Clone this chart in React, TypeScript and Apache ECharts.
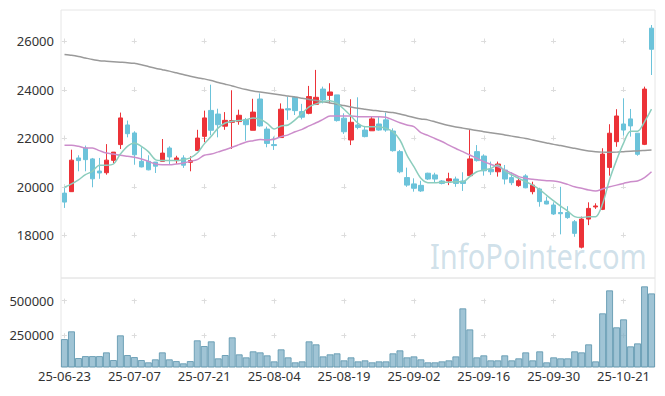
import React, { useEffect, useRef } from "react";
import * as echarts from "echarts";

const dates = [
  "25-06-23", "25-06-24", "25-06-25", "25-06-26", "25-06-27", "25-06-30",
  "25-07-01", "25-07-02", "25-07-03", "25-07-04",
  "25-07-07", "25-07-08", "25-07-09", "25-07-10", "25-07-11",
  "25-07-14", "25-07-15", "25-07-16", "25-07-17", "25-07-18",
  "25-07-21", "25-07-22", "25-07-23", "25-07-24", "25-07-25",
  "25-07-28", "25-07-29", "25-07-30", "25-07-31", "25-08-01",
  "25-08-04", "25-08-05", "25-08-06", "25-08-07", "25-08-08",
  "25-08-11", "25-08-12", "25-08-13", "25-08-14",
  "25-08-18", "25-08-19", "25-08-20", "25-08-21", "25-08-22",
  "25-08-25", "25-08-26", "25-08-27", "25-08-28", "25-08-29",
  "25-09-01", "25-09-02", "25-09-03", "25-09-04", "25-09-05",
  "25-09-08", "25-09-09", "25-09-10", "25-09-11", "25-09-12",
  "25-09-15", "25-09-16", "25-09-17", "25-09-18", "25-09-19",
  "25-09-22", "25-09-23", "25-09-24", "25-09-25", "25-09-26",
  "25-09-29", "25-09-30", "25-10-01", "25-10-02", "25-10-10",
  "25-10-13", "25-10-14", "25-10-15", "25-10-16", "25-10-17",
  "25-10-20", "25-10-21", "25-10-22", "25-10-23", "25-10-24", "25-10-27",
];

const opens = [
  19740, 19800, 21190, 21600, 21150, 20650, 20580, 21090, 21740, 22550,
  22220, 21050, 21050, 21020, 21050, 21600, 21080, 21190, 21010, 21500,
  22080, 23150, 23000, 22500, 22660, 22690, 22770, 22330, 23620, 22380,
  21740, 22030, 23220, 23690, 23100, 23030, 23400, 24030, 23770, 23790,
  22830, 21930, 22550, 22340, 22310, 22590, 22760, 22300, 21450, 20380,
  20120, 20060, 20560, 20490, 20240, 20240, 20320, 20240, 20460, 21450,
  21270, 20720, 20620, 20690, 20380, 20050, 20450, 19800, 19910, 19410,
  19250, 18940, 18940, 18560, 17510, 18670, 19170, 19070, 20800, 21860,
  22590, 22800, 22210, 21750, 26540,
];

const closes = [
  19370, 21100, 21080, 21120, 20330, 20570, 21100, 21430, 22840, 22190,
  21320, 20820, 20700, 20850, 21390, 21230, 21190, 20890, 21080, 22010,
  22840, 22330, 22560, 22740, 22730, 22950, 22560, 23080, 22510, 21790,
  21700, 23200, 23170, 23140, 22870, 23720, 23690, 23580, 23910, 22730,
  22270, 22660, 22450, 22070, 22800, 22340, 22340, 21490, 20620, 20070,
  19940, 19830, 20320, 20320, 20140, 20330, 20140, 20140, 21150, 21080,
  20660, 20620, 20940, 20320, 20170, 20250, 19960, 20070, 19390, 19290,
  18880, 18890, 18730, 18080, 18670, 19110, 19210, 21350, 22210, 22920,
  22340, 22510, 21340, 24030, 25670,
];

const lows = [
  19130, 19790, 20640, 20640, 19980, 20330, 20500, 20980, 21560, 22040,
  20910, 20800, 20680, 20570, 21050, 20910, 20950, 20780, 20640, 21500,
  21840, 22120, 22040, 22350, 21560, 22560, 21900, 22330, 22480, 21630,
  21520, 22030, 22760, 22960, 22780, 22990, 23370, 23440, 23440, 22690,
  22180, 21720, 22370, 22040, 22310, 22310, 22270, 21450, 20560, 20000,
  19800, 19790, 20280, 20190, 20100, 20070, 20000, 19830, 20460, 21040,
  20460, 20490, 20420, 20100, 20070, 20000, 19940, 19690, 19180, 19280,
  18840, 18040, 18680, 17940, 17460, 18420, 19090, 19040, 20460, 21650,
  22110, 22070, 21280, 21720, 24610,
];

const highs = [
  19950, 21530, 21300, 21700, 21190, 21190, 21760, 21430, 23060, 22730,
  22290, 21630, 21300, 21020, 21970, 21670, 21280, 21300, 21260, 22350,
  23140, 24210, 23220, 23080, 23980, 23180, 22840, 23630, 23850, 22480,
  22070, 23440, 23720, 23720, 23420, 24160, 24820, 24130, 24270, 23790,
  23030, 23610, 23690, 22510, 22890, 22920, 23060, 22410, 21520, 20790,
  20350, 20250, 20580, 20580, 20280, 20580, 20420, 20600, 22340, 21720,
  21340, 21040, 21040, 20900, 20600, 20380, 20520, 20210, 19960, 19590,
  19360, 20000, 19200, 18630, 18770, 19360, 19320, 21590, 22580, 23200,
  23650, 23210, 22210, 24130, 26670,
];

const volumes = [
  223000, 279000, 86000, 100000, 100000, 100000, 127000, 71500, 250000, 107600,
  93000, 71500, 55000, 76600, 127000, 76600, 64000, 47700, 64000, 214000,
  172700, 206600, 83800, 107600, 235500, 112700, 91000, 134400, 127000, 105500,
  62000, 148800, 91000, 55000, 62000, 206600, 185000, 98000, 112700, 120000,
  69400, 91000, 62000, 69400, 55000, 62000, 62000, 120000, 141600, 91000,
  98000, 76600, 55000, 55000, 62000, 69400, 98000, 445000, 293000, 91000,
  105500, 69400, 69400, 105500, 69400, 83800, 127000, 69400, 134400, 55000,
  91000, 83800, 83800, 134400, 127000, 185000, 62000, 409000, 575000, 308000,
  365600, 170500, 192000, 604000, 553000,
];

const ma5 = [
  19980, 20120, 20290, 20500, 20640, 20890, 20890, 20940, 21350, 21670,
  21810, 21670, 21450, 21120, 21080, 21080, 21080, 21120, 21190, 21390,
  21770, 22080, 22430, 22630, 22700, 22730, 22770, 22840, 22780, 22620,
  22380, 22510, 22550, 22760, 23030, 23300, 23420, 23510, 23550, 23440,
  23200, 22920, 22620, 22480, 22480, 22480, 22410, 22270, 21930, 21310,
  20830, 20350, 20170, 20170, 20190, 20190, 20210, 20210, 20420, 20620,
  20690, 20760, 20900, 20650, 20490, 20350, 20210, 20070, 19880, 19650,
  19420, 19200, 19000, 18770, 18730, 18770, 18770, 19300, 20300, 21100,
  21800, 22290, 22290, 22680, 23200,
];

const ma20 = [
  21710, 21710, 21670, 21600, 21600, 21490, 21390, 21350, 21300, 21260,
  21220, 21150, 21050, 20940, 20910, 20910, 20940, 20980, 21050, 21120,
  21300, 21350, 21440, 21530, 21630, 21740, 21850, 21900, 21950, 21930,
  21960, 22070, 22140, 22270, 22370, 22510, 22640, 22780, 22920, 22920,
  22920, 22920, 22890, 22890, 22890, 22890, 22870, 22760, 22640, 22550,
  22480, 22230, 22120, 21990, 21870, 21720, 21580, 21450, 21310, 21180,
  21040, 20930, 20830, 20690, 20560, 20420, 20350, 20310, 20280, 20250,
  20240, 20190, 20100, 20000, 19940, 19870, 19830, 19910, 20000, 20070,
  20140, 20210, 20240, 20380, 20620,
];

const ma60 = [
  25460, 25420, 25370, 25310, 25250, 25200, 25180, 25160, 25140, 25120,
  25090, 25030, 24960, 24890, 24830, 24770, 24700, 24630, 24560, 24500,
  24450, 24380, 24300, 24230, 24160, 24080, 24010, 23950, 23910, 23870,
  23830, 23790, 23740, 23700, 23650, 23600, 23560, 23510, 23460, 23400,
  23350, 23290, 23240, 23200, 23160, 23130, 23090, 23060, 23000, 22930,
  22860, 22800, 22760, 22680, 22600, 22530, 22470, 22420, 22370, 22320,
  22270, 22230, 22190, 22140, 22090, 22040, 21990, 21930, 21870, 21810,
  21750, 21700, 21640, 21590, 21530, 21480, 21450, 21430, 21420, 21430,
  21450, 21470, 21480, 21500, 21520,
];

const priceTicks = [18000, 20000, 22000, 24000, 26000];
const volumeTicks = [250000, 500000];

const UP = "#ec3238";
const DOWN = "#6cc3da";
const GRIDLINE = "#dcdcdc";
const LABEL = "#333333";
const FONT = "Noto Sans";

export default function App() {
  const ref = useRef<HTMLDivElement>(null);

  useEffect(() => {
    if (!ref.current) return;
    const chart = echarts.init(ref.current, undefined, { renderer: "svg" });
    const candles = dates.map((_, i) => [opens[i], closes[i], lows[i], highs[i]]);
    const plain = (v: number) => String(v);

    const option: any = {
      animation: false,
      backgroundColor: "#ffffff",
      textStyle: { fontFamily: FONT },
      graphic: [
        {
          type: "text",
          x: 430,
          y: 255,
          scaleX: 0.83,
          z: 0,
          silent: true,
          style: {
            text: "InfoPointer.com",
            font: `35px "${FONT}"`,
            fill: "rgba(150,187,208,0.45)",
            textAlign: "left",
            verticalAlign: "middle",
          },
        },
      ],
      grid: [
        {
          left: 61, right: 10, top: 10, height: 268,
          show: true, borderColor: "#e6e6e6", borderWidth: 1,
          containLabel: false, outerBoundsMode: "none",
        },
        {
          left: 61, right: 10, top: 278, height: 89,
          show: true, borderColor: "#e6e6e6", borderWidth: 1,
          containLabel: false, outerBoundsMode: "none",
        },
      ],
      xAxis: [
        {
          type: "category",
          gridIndex: 0,
          data: dates,
          boundaryGap: true,
          axisLine: { show: false },
          axisTick: { show: false },
          axisLabel: { show: false },
          splitLine: {
            show: true,
            interval: 9,
            alignWithLabel: true,
            lineStyle: { color: GRIDLINE, width: 1, type: [5, 43.51], dashOffset: 19.72 },
          },
        },
        {
          type: "category",
          gridIndex: 1,
          data: dates,
          boundaryGap: true,
          axisLine: { show: false },
          axisTick: { show: false },
          axisLabel: {
            show: true, interval: 9, margin: 2, color: LABEL, fontSize: 13, fontFamily: FONT,
          },
          splitLine: {
            show: true,
            interval: 9,
            alignWithLabel: true,
            lineStyle: { color: GRIDLINE, width: 1, type: [5, 29.6], dashOffset: 14.4 },
          },
        },
      ],
      yAxis: [
        {
          type: "value",
          gridIndex: 0,
          min: 16240,
          max: 27290,
          scale: true,
          axisLine: { show: false },
          axisTick: { show: false, customValues: priceTicks },
          axisLabel: {
            customValues: priceTicks, formatter: plain,
            color: LABEL, fontSize: 13, margin: 7, fontFamily: FONT,
          },
          splitLine: {
            show: true,
            lineStyle: { color: GRIDLINE, width: 1, type: [5, 64.88], dashOffset: 68.88 },
          },
        },
        {
          type: "value",
          gridIndex: 1,
          min: 21000,
          max: 664000,
          axisLine: { show: false },
          axisTick: { show: false, customValues: volumeTicks },
          axisLabel: {
            customValues: volumeTicks, formatter: plain,
            color: LABEL, fontSize: 13, margin: 7, fontFamily: FONT,
          },
          splitLine: {
            show: true,
            lineStyle: { color: GRIDLINE, width: 1, type: [5, 64.88], dashOffset: 68.88 },
          },
        },
      ],
      series: [
        {
          type: "candlestick",
          xAxisIndex: 0,
          yAxisIndex: 0,
          data: candles,
          barWidth: 5,
          itemStyle: {
            color: UP,
            color0: DOWN,
            borderColor: UP,
            borderColor0: DOWN,
            borderWidth: 1,
          },
        },
        {
          type: "line", xAxisIndex: 0, yAxisIndex: 0, data: ma60,
          showSymbol: false, symbol: "none", smooth: 0.2,
          lineStyle: { color: "#9a9a9a", width: 1.5 }, z: 3,
        },
        {
          type: "line", xAxisIndex: 0, yAxisIndex: 0, data: ma20,
          showSymbol: false, symbol: "none", smooth: 0.3,
          lineStyle: { color: "#cc8dcb", width: 1.5 }, z: 3,
        },
        {
          type: "line", xAxisIndex: 0, yAxisIndex: 0, data: ma5,
          showSymbol: false, symbol: "none", smooth: 0.3,
          lineStyle: { color: "#8ccdbd", width: 1.5 }, z: 3,
        },
        {
          type: "bar",
          xAxisIndex: 1,
          yAxisIndex: 1,
          data: volumes,
          barCategoryGap: "0%",
          itemStyle: {
            color: "rgba(128,176,199,0.75)",
            borderColor: "rgba(95,150,175,0.85)",
            borderWidth: 1,
          },
        },
      ],
    };

    chart.setOption(option);
    return () => chart.dispose();
  }, []);

  return (
    <div
      ref={ref}
      style={{ position: "absolute", left: 0, top: 0, width: 665, height: 396 }}
    />
  );
}
